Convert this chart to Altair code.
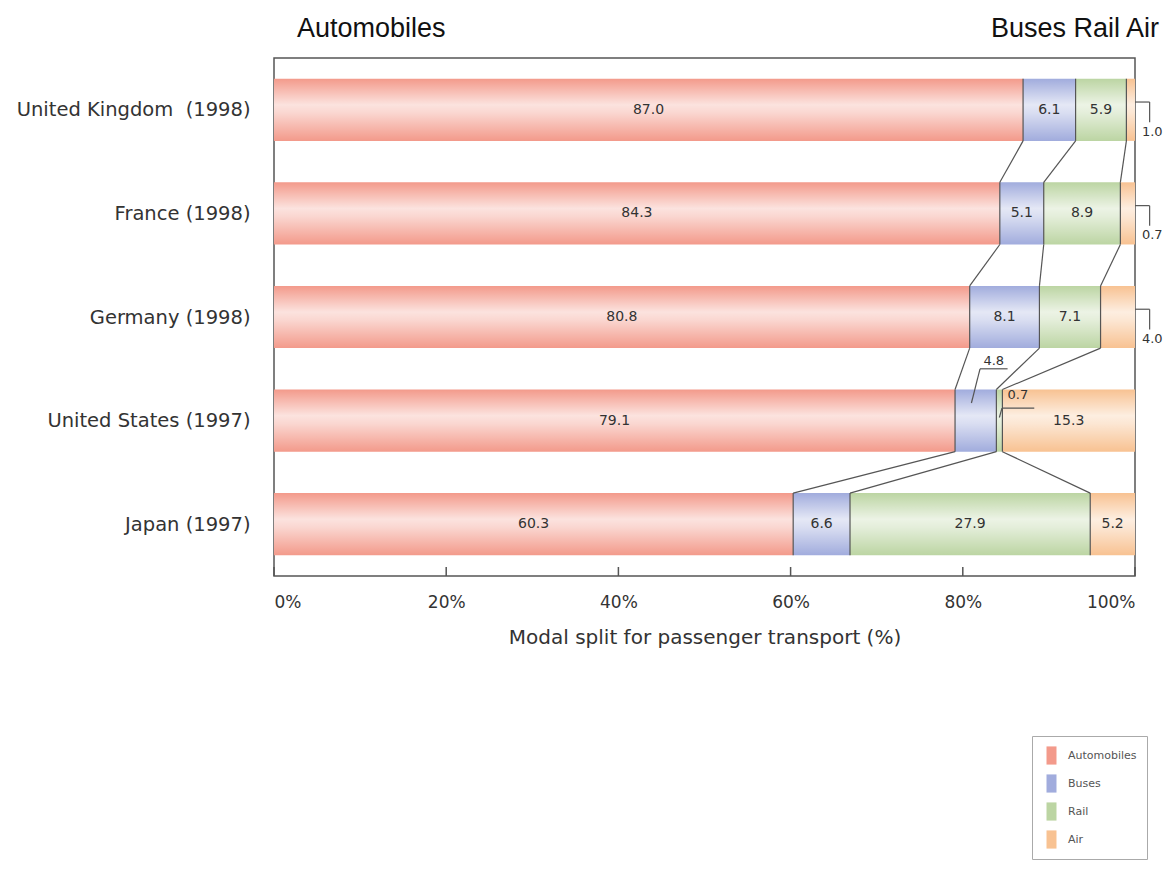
import json
import altair as alt
import pandas as pd

# ---------------- data ----------------
countries = [
    "United Kingdom \u00a0(1998)",
    "France (1998)",
    "Germany (1998)",
    "United States (1997)",
    "Japan (1997)",
]
modes = ["Automobiles", "Buses", "Rail", "Air"]
automobiles = [87.0, 84.3, 80.8, 79.1, 60.3]
buses = [6.1, 5.1, 8.1, 4.8, 6.6]
rail = [5.9, 8.9, 7.1, 0.7, 27.9]
air = [1.0, 0.7, 4.0, 15.3, 5.2]
tick_values = [0, 20, 40, 60, 80, 100]
header_left = ["Automobiles"]
header_right = ["Buses Rail Air"]
axis_title = "Modal split for passenger transport (%)"

colors = ["#f39a8b", "#a1acdd", "#bcd5a3", "#f8c292"]

series = {"Automobiles": automobiles, "Buses": buses, "Rail": rail, "Air": air}

# callout styles for small segments
callouts = {
    (0, "Air"): "bracket",
    (1, "Air"): "bracket",
    (2, "Air"): "bracket",
    (3, "Buses"): "above",
    (3, "Rail"): "right",
}

HALF = 0.3  # half bar thickness in row units

rows = []
for i, c in enumerate(countries):
    start = 0.0
    for k, m in enumerate(modes):
        v = series[m][i]
        end = start + v if k < len(modes) - 1 else 100.0  # bars fill to 100 %
        rows.append(dict(country=c, row=i, mode=m, value=v, x0=start, x1=end,
                         mid=(start + end) / 2, yt=i - HALF, yb=i + HALF))
        start = end
df = pd.DataFrame(rows)

inside = df[[(r, m) not in callouts for r, m in zip(df.row, df["mode"])]]

# line segments (connectors, separators, callout lines)
segs = []
ends = {}
for i in range(len(countries)):
    sub = df[df.row == i].set_index("mode")
    ends[i] = [sub.loc[m, "x1"] for m in modes[:-1]]
    for b in ends[i]:
        segs.append(dict(x=b, x2=b, y=i - HALF, y2=i + HALF))
for i in range(len(countries) - 1):
    for a, b in zip(ends[i], ends[i + 1]):
        segs.append(dict(x=a, x2=b, y=i + HALF, y2=i + 1 - HALF))

out_labels = []
for (r, m), kind in callouts.items():
    s = df[(df.row == r) & (df["mode"] == m)].iloc[0]
    if kind == "bracket":
        xe = s.x1
        segs.append(dict(x=xe, x2=xe + 1.7, y=r - 0.075, y2=r - 0.075))
        segs.append(dict(x=xe + 1.7, x2=xe + 1.7, y=r - 0.075, y2=r + 0.12))
        out_labels.append(dict(x=xe + 2.0, y=r + 0.21, value=s.value))
    elif kind == "above":
        tx = s.x1 - 0.3
        segs.append(dict(x=tx - 1.6, x2=tx + 1.6, y=r - 0.50, y2=r - 0.50))
        segs.append(dict(x=tx - 1.6, x2=s.mid - 0.5, y=r - 0.50, y2=r - 0.17))
        out_labels.append(dict(x=tx, y=r - 0.58, value=s.value))
    else:
        tx = s.x1 + 1.8
        segs.append(dict(x=s.x1 - 0.05, x2=s.x1 + 3.7, y=r - 0.12, y2=r - 0.12))
        segs.append(dict(x=s.x1 - 0.05, x2=s.mid, y=r - 0.12, y2=r - 0.03))
        out_labels.append(dict(x=tx, y=r - 0.25, value=s.value))
seg_df = pd.DataFrame(segs)
out_df = pd.DataFrame(out_labels)

SCAN_FONT = "DejaVu Sans"

# ---------------- scales / axes ----------------
xscale = alt.Scale(domain=[0, 100], nice=False, zero=False)
yscale = alt.Scale(domain=[-0.5, 4.5], reverse=True, nice=False, zero=False)

xaxis = alt.Axis(values=tick_values, labelExpr="datum.value + '%'", ticks=False,
                 domain=False, grid=False, labelFontSize=17, labelColor="#333",
                 labelFont=SCAN_FONT, labelPadding=18, title=axis_title,
                 titleFontSize=20, titleFont=SCAN_FONT, titleFontWeight="normal",
                 titleColor="#333", titlePadding=17)
yaxis = alt.Axis(values=list(range(len(countries))),
                 labelExpr=json.dumps(countries) + "[datum.value]",
                 ticks=False, domain=False, grid=False, labelFontSize=19.5,
                 labelFont=SCAN_FONT, labelColor="#333", labelPadding=24,
                 labelLimit=400, title=None)


def X(f):
    return alt.X(f, type="quantitative", scale=xscale, axis=xaxis)


def Y(f):
    return alt.Y(f, type="quantitative", scale=yscale, axis=yaxis)


bars = alt.Chart(df).mark_rect().encode(
    x=X("x0"), x2="x1", y=Y("yt"), y2="yb",
    color=alt.Color("mode:N", sort=modes,
                    scale=alt.Scale(domain=modes, range=colors),
                    legend=alt.Legend(orient="none", legendX=758, legendY=678,
                                      title=None, direction="vertical",
                                      symbolType="M-0.55,-1H0.55V1H-0.55Z",
                                      symbolSize=330, symbolStrokeWidth=0,
                                      labelFontSize=11, labelFont=SCAN_FONT,
                                      labelColor="#555",
                                      strokeColor="#aaa", fillColor="white",
                                      padding=10, rowPadding=9, labelOffset=7)),
)

shine = alt.Chart(df).mark_rect(fill={
    "gradient": "linear", "x1": 0, "y1": 0, "x2": 0, "y2": 1,
    "stops": [
        {"offset": 0, "color": "rgba(255,255,255,0.0)"},
        {"offset": 0.42, "color": "rgba(255,255,255,0.72)"},
        {"offset": 0.55, "color": "rgba(255,255,255,0.6)"},
        {"offset": 1, "color": "rgba(255,255,255,0.0)"},
    ]}).encode(x=X("x0"), x2="x1", y=Y("yt"), y2="yb")

lines = alt.Chart(seg_df).mark_rule(color="#555", strokeWidth=1.2).encode(
    x=X("x"), x2="x2", y=Y("y"), y2="y2")

ticks = alt.Chart(pd.DataFrame({"v": tick_values})).mark_rule(
    color="#555", strokeWidth=1.5).encode(
    x=X("v"), y=alt.value(518), y2=alt.value(509))

in_text = alt.Chart(inside).mark_text(fontSize=14, color="#333", font=SCAN_FONT).encode(
    x=X("mid"), y=Y("row"), text=alt.Text("value:Q", format=".1f"))

out_text = alt.Chart(out_df).mark_text(fontSize=13, color="#333", font=SCAN_FONT).encode(
    x=X("x"), y=Y("y"), text=alt.Text("value:Q", format=".1f"))

head_l = alt.Chart(pd.DataFrame({"t": header_left})).mark_text(
    fontSize=27, color="#111", align="left", baseline="alphabetic", dx=23,
    font="Liberation Sans").encode(
    x=alt.datum(0), y=alt.value(-21), text="t:N")
head_r = alt.Chart(pd.DataFrame({"t": header_right})).mark_text(
    fontSize=27, color="#111", align="right", baseline="alphabetic", dx=24,
    font="Liberation Sans").encode(
    x=alt.datum(100), y=alt.value(-21), text="t:N")

chart = alt.layer(bars, shine, lines, ticks, in_text, out_text, head_l, head_r).properties(
    width=861, height=518,
    autosize=alt.AutoSizeParams(type="none"),
    padding={"left": 266, "top": 50, "right": 30, "bottom": 290},
).configure(font="Liberation Sans").configure_view(stroke="#555", strokeWidth=1.5)

chart.save("out.html", embed_options={"renderer": "svg", "actions": False})
